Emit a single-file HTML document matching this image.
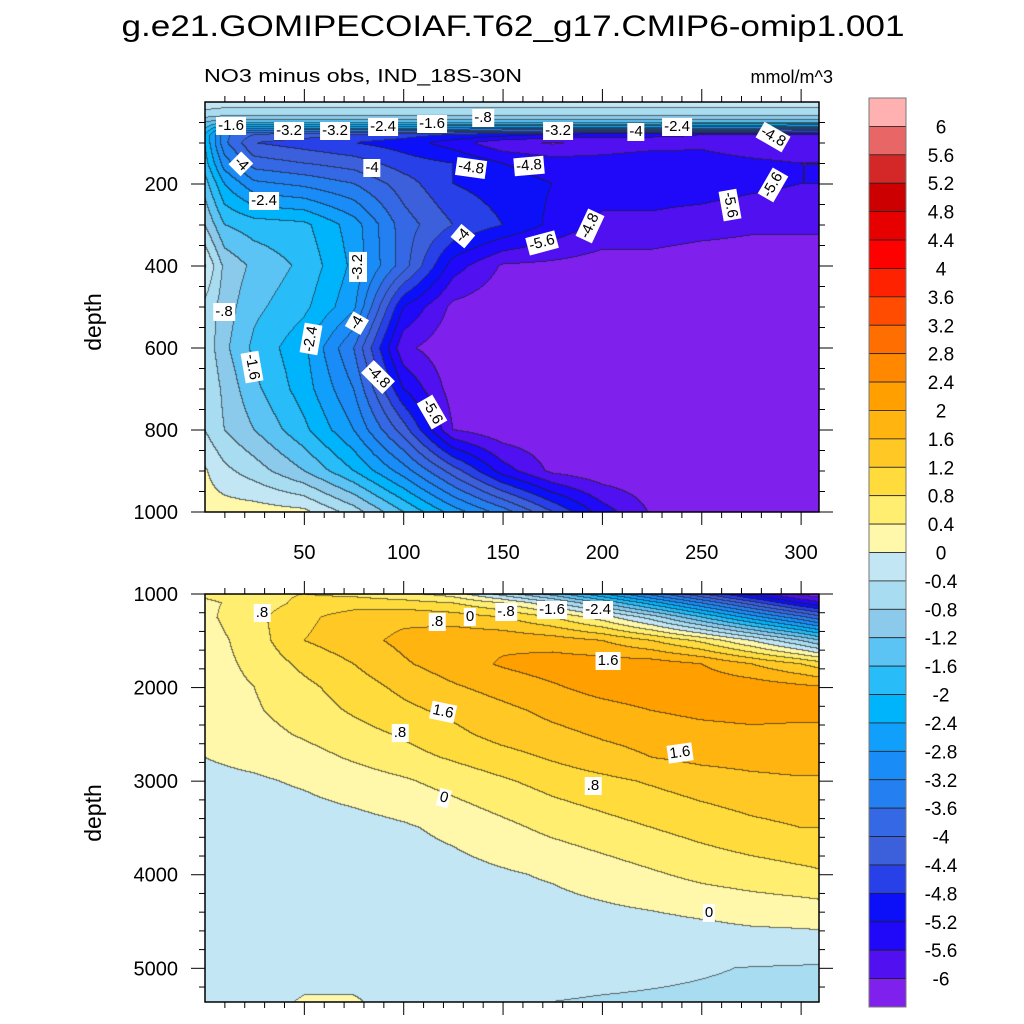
<!DOCTYPE html>
<html><head><meta charset="utf-8">
<style>
html,body{margin:0;padding:0;background:#fff;}
#root{position:relative;width:1024px;height:1024px;overflow:hidden;font-family:"Liberation Sans",sans-serif;}
canvas{position:absolute;}
svg{position:absolute;left:0;top:0;}
.lbl{position:absolute;background:#fff;color:#000;font-size:15px;line-height:16px;padding:1px 2px;transform:translate(-50%,-50%);white-space:nowrap;}
</style></head>
<body>
<div id="root">
<canvas id="topc" width="614" height="410" style="left:205px;top:102px"></canvas>
<canvas id="botc" width="614" height="408" style="left:205px;top:594px"></canvas>
<svg id="ax" width="1024" height="1024"></svg>
</div>
<script>
// ---- data ----
const levels = [-6,-5.6,-5.2,-4.8,-4.4,-4,-3.6,-3.2,-2.8,-2.4,-2,-1.6,-1.2,-0.8,-0.4,0,0.4,0.8,1.2,1.6,2,2.4,2.8,3.2,3.6,4,4.4,4.8,5.2,5.6,6];
const colors = ["#8020ec","#5010f0","#2008f8","#0c10f8","#2840e8","#3c60dc","#3468e4","#2480f0","#1a8cf8","#10a0fc","#00b4fc","#28bcf8","#5cc4f4","#8ccaec","#a8dcf0","#c2e6f4","#fff8aa","#ffee70","#ffdc3c","#ffc824","#ffb410","#ffa000","#ff8800","#ff6e00","#ff4c00","#ff2200","#ff0000","#e60000","#cc0000","#d42828","#e86666","#ffb0b0"];
const cbLabels = ["6","5.6","5.2","4.8","4.4","4","3.6","3.2","2.8","2.4","2","1.6","1.2","0.8","0.4","0","-0.4","-0.8","-1.2","-1.6","-2","-2.4","-2.8","-3.2","-3.6","-4","-4.4","-4.8","-5.2","-5.6","-6"];

const topX = [0,10,25,50,75,100,125,150,175,200,225,250,275,300,310];
const topD = [0,30,50,65,80,100,150,200,300,400,500,600,700,800,900,1000];
const topV = [
[-0.2,-0.2,-0.2,-0.2,-0.2,-0.2,-0.2,-0.2,-0.2,-0.2,-0.2,-0.2,-0.2,-0.2,-0.2],
[-0.5,-0.6,-0.6,-0.6,-0.6,-0.6,-0.6,-0.6,-0.6,-0.6,-0.6,-0.6,-0.6,-0.6,-0.6],
[-1.2,-1.5,-1.5,-1.5,-1.5,-1.5,-1.5,-1.5,-1.5,-1.5,-1.5,-1.5,-1.5,-1.5,-1.5],
[-1.6,-2.6,-2.8,-2.8,-2.8,-2.8,-2.9,-3.0,-3.0,-3.0,-3.0,-3.2,-3.2,-3.4,-3.4],
[-2.0,-3.5,-4.0,-4.2,-4.4,-4.6,-4.8,-5.0,-5.2,-5.4,-5.5,-5.6,-5.6,-5.6,-5.6],
[-2.0,-3.5,-4.4,-4.6,-4.8,-5.0,-5.4,-5.9,-6.05,-5.9,-5.8,-5.7,-5.9,-6.0,-5.8],
[-1.8,-3.0,-3.8,-4.0,-4.2,-4.6,-4.8,-5.2,-5.4,-5.4,-5.3,-5.4,-5.5,-5.6,-5.6],
[-1.4,-2.4,-3.1,-3.3,-3.6,-4.2,-4.8,-5.0,-5.2,-5.4,-5.4,-5.4,-5.5,-5.6,-5.6],
[-0.8,-1.6,-1.8,-1.9,-2.6,-3.8,-4.4,-4.8,-5.3,-5.7,-5.7,-5.8,-5.9,-5.9,-5.9],
[0.05,-0.9,-1.3,-1.7,-2.5,-3.8,-5.4,-6.05,-6.1,-6.2,-6.2,-6.3,-6.3,-6.3,-6.3],
[-0.5,-1.0,-1.5,-1.9,-2.7,-5.2,-6.1,-6.3,-6.3,-6.3,-6.3,-6.3,-6.3,-6.3,-6.3],
[-0.5,-1.1,-1.7,-2.3,-3.6,-5.9,-6.3,-6.3,-6.3,-6.3,-6.3,-6.3,-6.3,-6.3,-6.3],
[-0.4,-0.9,-1.5,-2.2,-3.2,-5.2,-6.2,-6.3,-6.3,-6.3,-6.3,-6.3,-6.3,-6.3,-6.3],
[-0.4,-0.8,-1.2,-1.9,-2.8,-4.2,-6.0,-6.3,-6.3,-6.3,-6.3,-6.3,-6.3,-6.3,-6.3],
[0.05,-0.3,-0.6,-1.2,-2.0,-3.0,-4.2,-5.4,-6.1,-6.3,-6.3,-6.3,-6.3,-6.3,-6.3],
[0.2,0.2,0.2,0.1,-0.6,-1.6,-2.6,-3.4,-4.4,-5.4,-6.05,-6.3,-6.3,-6.3,-6.3]
];

const botX = [0,25,50,75,100,125,150,175,200,225,250,275,300,310];
const botD = [1000,1100,1250,1500,1750,2000,2250,2500,2750,3000,3500,4000,4500,5000,5360];
const botV = [
[0.5,0.7,0.8,0.7,0.5,0.2,-0.6,-1.4,-2.4,-3.4,-4.4,-5.4,-6.2,-6.3],
[0.3,0.6,0.9,1.0,0.95,0.8,0.4,-0.3,-1.2,-2.2,-3.2,-4.2,-5.2,-5.5],
[0.3,0.7,1.1,1.4,1.5,1.4,1.2,0.8,0.2,-0.6,-1.6,-2.6,-3.5,-3.9],
[0.2,0.6,1.2,1.45,1.7,1.9,1.9,1.8,1.6,1.2,0.7,0.0,-0.8,-1.2],
[0.2,0.5,0.9,1.2,1.55,1.8,2.05,2.2,2.2,2.2,2.0,1.6,1.2,1.0],
[0.2,0.4,0.7,1.0,1.3,1.55,1.75,1.95,2.15,2.25,2.3,2.25,2.1,2.05],
[0.15,0.35,0.6,0.85,1.1,1.3,1.5,1.7,1.85,2.0,2.1,2.15,2.1,2.1],
[0.1,0.25,0.45,0.65,0.85,1.1,1.35,1.5,1.65,1.75,1.85,1.9,1.9,1.9],
[0.0,0.1,0.25,0.45,0.65,0.85,1.05,1.25,1.45,1.6,1.7,1.75,1.8,1.8],
[-0.1,-0.05,0.05,0.2,0.35,0.55,0.75,0.95,1.1,1.25,1.4,1.5,1.55,1.55],
[-0.2,-0.2,-0.2,-0.15,-0.05,0.1,0.3,0.5,0.65,0.8,0.95,1.1,1.2,1.2],
[-0.2,-0.2,-0.2,-0.2,-0.2,-0.15,-0.05,0.05,0.2,0.35,0.5,0.6,0.7,0.75],
[-0.2,-0.2,-0.2,-0.2,-0.2,-0.2,-0.2,-0.2,-0.15,-0.1,-0.02,0.05,0.08,0.1],
[-0.2,-0.2,-0.2,-0.2,-0.25,-0.25,-0.28,-0.3,-0.32,-0.35,-0.38,-0.41,-0.43,-0.44],
[-0.2,-0.2,0.05,0.05,-0.2,-0.3,-0.35,-0.4,-0.42,-0.43,-0.44,-0.45,-0.46,-0.46]
];

const topLabels = [
["-1.6",231,126,0],["-3.2",289,131,0],["-3.2",335,131,0],["-2.4",383,127,0],["-1.6",432,124,0],["-.8",483,118,0],
["-3.2",558,131,0],["-4",636,132,0],["-2.4",677,127,0],["-4.8",773,137,30],["-4",241,164,45],["-4",372,168,0],
["-4.8",471,168,8],["-4.8",529,166,-5],["-2.4",264,201,0],["-5.6",730,205,80],["-5.6",773,185,-60],["-4",463,236,-50],
["-4.8",590,226,-65],["-5.6",542,243,-15],["-3.2",358,267,-90],["-.8",224,312,0],["-4",357,323,-60],["-2.4",311,339,-80],
["-1.6",252,367,80],["-4.8",378,377,45],["-5.6",432,412,60]
];
const botLabels = [
[".8",262,613,0],[".8",437,622,0],["0",470,617,0],["-.8",506,612,0],["-1.6",552,610,0],["-2.4",598,610,0],
["1.6",608,661,0],["1.6",443,712,12],[".8",400,733,0],["1.6",680,753,-8],[".8",593,786,0],["0",444,798,15],["0",709,913,0]
];

// ---- axes ----
const TOP = {x0:205,x1:819,y0:102,y1:512,xmin:0,xmax:309,dmin:0,dmax:1000};
const BOT = {x0:205,x1:819,y0:594,y1:1002,xmin:0,xmax:309,dmin:1000,dmax:5360};
function sx(p,v){return p.x0+(v-p.xmin)/(p.xmax-p.xmin)*(p.x1-p.x0);}
function sy(p,d){return p.y0+(d-p.dmin)/(p.dmax-p.dmin)*(p.y1-p.y0);}
function idx(arr,v){let i=0;while(i<arr.length-2&&v>arr[i+1])i++;return i;}
function interp(X,D,V,x,d){
  const i=idx(X,x), j=idx(D,d);
  let tx=(x-X[i])/(X[i+1]-X[i]), ty=(d-D[j])/(D[j+1]-D[j]);
  tx=Math.max(0,Math.min(1,tx)); ty=Math.max(0,Math.min(1,ty));
  const a=V[j][i],b=V[j][i+1],c=V[j+1][i],e=V[j+1][i+1];
  return (a*(1-tx)+b*tx)*(1-ty)+(c*(1-tx)+e*tx)*ty;
}
function bin(v){let k=0;while(k<levels.length&&v>=levels[k])k++;return k;}
function hex(h){return [parseInt(h.slice(1,3),16),parseInt(h.slice(3,5),16),parseInt(h.slice(5,7),16)];}
const rgb=colors.map(hex);
function draw(id,p,X,D,V){
  const cv=document.getElementById(id),ctx=cv.getContext('2d');
  const W=cv.width,H=cv.height,img=ctx.createImageData(W,H);
  const B=new Int16Array(W*H);
  for(let py=0;py<H;py++){const d=p.dmin+(py+0.5)/H*(p.dmax-p.dmin);
    for(let px=0;px<W;px++){const x=p.xmin+(px+0.5)/W*(p.xmax-p.xmin);
      B[py*W+px]=bin(interp(X,D,V,x,d));}}
  for(let py=0;py<H;py++)for(let px=0;px<W;px++){
    const k=B[py*W+px];let c=rgb[k];
    const edge=(px<W-1&&B[py*W+px+1]!==k)||(py<H-1&&B[(py+1)*W+px]!==k);
    const o=(py*W+px)*4;
    if(edge){img.data[o]=c[0]*0.35+20;img.data[o+1]=c[1]*0.35+20;img.data[o+2]=c[2]*0.35+20;}
    else{img.data[o]=c[0];img.data[o+1]=c[1];img.data[o+2]=c[2];}
    img.data[o+3]=255;}
  ctx.putImageData(img,0,0);
}
draw('topc',TOP,topX,topD,topV);
draw('botc',BOT,botX,botD,botV);

const NS='http://www.w3.org/2000/svg',svg=document.getElementById('ax');
function el(t,a,txt){const e=document.createElementNS(NS,t);for(const k in a)e.setAttribute(k,a[k]);if(txt!==undefined)e.textContent=txt;svg.appendChild(e);return e;}
function line(x1,y1,x2,y2,w){return el('line',{x1,y1,x2,y2,stroke:'#000','stroke-width':w||1});}
function frame(p,name){
  const r=el('rect',{x:p.x0,y:p.y0,width:p.x1-p.x0,height:p.y1-p.y0,fill:'none',stroke:'#000','stroke-width':1.5});
  
  
  for(let v=10;v<=p.xmax;v+=10){const x=sx(p,v),L=(v%50===0)?13:6;
    line(x,p.y0,x,p.y0-L);line(x,p.y1,x,p.y1+L);}
}
frame(TOP,'upper-plot-frame');frame(BOT,'lower-plot-frame');
for(let d=50;d<=1000;d+=50){const y=sy(TOP,d),L=(d%200===0)?14:6;line(TOP.x0,y,TOP.x0-L,y);line(TOP.x1,y,TOP.x1+L,y);}
for(let d=1000;d<=5360;d+=200){const y=sy(BOT,d),L=(d%1000===0)?14:6;line(BOT.x0,y,BOT.x0-L,y);line(BOT.x1,y,BOT.x1+L,y);}
[200,400,600,800,1000].forEach(d=>{const t=el('text',{x:178,y:sy(TOP,d)+7,'text-anchor':'end','font-size':20},String(d));
  });
[1000,2000,3000,4000,5000].forEach(d=>{const t=el('text',{x:178,y:sy(BOT,d)+7,'text-anchor':'end','font-size':20},String(d));
  });
[50,100,150,200,250,300].forEach(v=>{const t=el('text',{x:sx(TOP,v),y:559,'text-anchor':'middle','font-size':20},String(v));
  });
let t;
t=el('text',{x:513,y:36,'text-anchor':'middle','font-size':30,textLength:783,lengthAdjust:'spacingAndGlyphs'},'g.e21.GOMIPECOIAF.T62_g17.CMIP6-omip1.001');

t=el('text',{x:204,y:82,'font-size':18,textLength:318,lengthAdjust:'spacingAndGlyphs'},'NO3 minus obs, IND_18S-30N');

t=el('text',{x:833,y:83,'text-anchor':'end','font-size':18},'mmol/m^3');

t=el('text',{x:101,y:322,'text-anchor':'middle','font-size':23,transform:'rotate(-90 101 322)'},'depth');

t=el('text',{x:101,y:813,'text-anchor':'middle','font-size':23,transform:'rotate(-90 101 813)'},'depth');


// colorbar
const cbTop=98,cbBot=1007,cbH=(cbBot-cbTop)/colors.length;
for(let k=0;k<colors.length;k++){const c=colors[colors.length-1-k];
  const r=el('rect',{x:869,y:cbTop+k*cbH,width:37,height:cbH,fill:c,stroke:'#222','stroke-width':0.8});
  }
el('rect',{x:869,y:cbTop,width:37,height:cbBot-cbTop,fill:'none',stroke:'#777','stroke-width':1});
cbLabels.forEach((s,k)=>{const tt=el('text',{x:941,y:cbTop+(k+1)*cbH+7,'text-anchor':'middle','font-size':19},s);
  });

// contour labels
const root=document.getElementById('root');
function addLabels(arr,name){arr.forEach(a=>{const d=document.createElement('div');d.className='lbl';
  d.textContent=a[0];d.style.left=a[1]+'px';d.style.top=a[2]+'px';
  d.style.transform='translate(-50%,-50%) rotate('+a[3]+'deg)';
  
  
  root.appendChild(d);});}
addLabels(topLabels,'upper-contour-label');
addLabels(botLabels,'lower-contour-label');
</script>
</body></html>
